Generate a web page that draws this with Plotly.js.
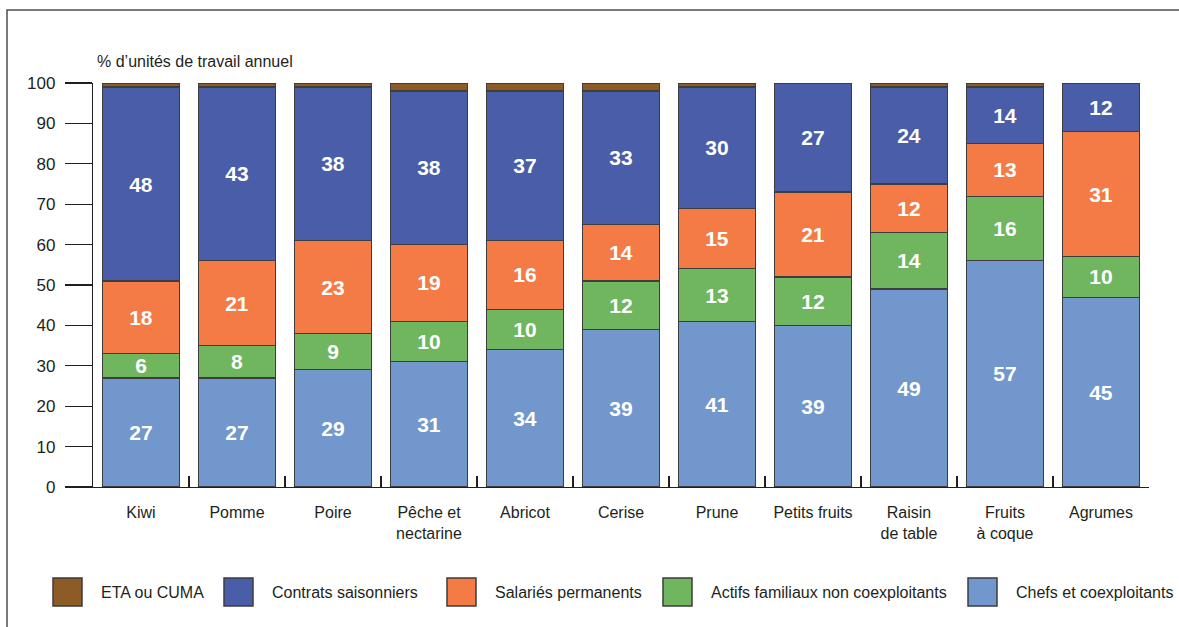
<!DOCTYPE html>
<html>
<head>
<meta charset="utf-8">
<script src="https://cdn.plot.ly/plotly-3.0.1.min.js"></script>
<style>
  html, body { margin: 0; padding: 0; background: #ffffff; }
  #chart { width: 1179px; height: 627px; }
</style>
</head>
<body>
<div id="chart"></div>
<script>
// Categories (x-axis tick labels)
const categories = ["Kiwi", "Pomme", "Poire", "Pêche et<br>nectarine", "Abricot", "Cerise", "Prune", "Petits fruits", "Raisin<br>de table", "Fruits<br>à coque", "Agrumes"];

// Series names
const seriesNames = ["Chefs et coexploitants", "Actifs familiaux non coexploitants", "Salariés permanents", "Contrats saisonniers", "ETA ou CUMA"];

// Segment heights (% of annual work units)
const chefs      = [27, 27, 29, 31, 34, 39, 41, 40, 49, 56, 47];
const actifs     = [ 6,  8,  9, 10, 10, 12, 13, 12, 14, 16, 10];
const salaries   = [18, 21, 23, 19, 17, 14, 15, 21, 12, 13, 31];
const contrats   = [48, 43, 38, 38, 37, 33, 30, 27, 24, 14, 12];
const eta        = [ 1,  1,  1,  2,  2,  2,  1,  0,  1,  1,  0];

// Printed labels inside the bars
const chefsLabels    = [27, 27, 29, 31, 34, 39, 41, 39, 49, 57, 45];
const actifsLabels   = [ 6,  8,  9, 10, 10, 12, 13, 12, 14, 16, 10];
const salariesLabels = [18, 21, 23, 19, 16, 14, 15, 21, 12, 13, 31];
const contratsLabels = [48, 43, 38, 38, 37, 33, 30, 27, 24, 14, 12];

// Y-axis ticks
const yTicks = [0, 10, 20, 30, 40, 50, 60, 70, 80, 90, 100];

// ---- styling / layout (not data) ----
const colors = ["#7297cd", "#6fb65f", "#f47b45", "#4a5da8", "#8d5b26"];
const FONT = "'Liberation Sans', Arial, sans-serif";
const INK = "#231f20";
const W = 1179, H = 627;
const M = { l: 93, r: 30, t: 83, b: 140 };
const plotW = W - M.l - M.r, plotH = H - M.t - M.b;
const px2x = px => (px - M.l) / plotW;
const py2y = py => (H - M.b - py) / plotH;

// Legend layout (drawn in reverse series order: ETA first), pixel positions
const legendSwatchLeft = [53, 224, 447, 663, 968];
const legendTextGap = 17;
const legendSwatch = { w: 29, h: 28, cy: 592 };

const seriesValues = [chefs, actifs, salaries, contrats, eta];
const seriesLabels = [chefsLabels, actifsLabels, salariesLabels, contratsLabels, null];

const traces = seriesValues.map((vals, i) => {
  const t = {
    type: "bar",
    name: seriesNames[i],
    x: categories,
    y: vals,
    marker: { color: colors[i], line: { color: "#3d3d3d", width: 1.2 } },
    hoverinfo: "skip",
    showlegend: false
  };
  if (seriesLabels[i]) {
    t.text = seriesLabels[i].map(String);
    t.textposition = "inside";
    t.insidetextanchor = "middle";
    t.textangle = 0;
    t.constraintext = "none";
    t.textfont = { family: FONT, size: 21, color: "#ffffff", weight: "bold" };
  } else {
    t.textposition = "none";
  }
  return t;
});

const shapes = [{
  type: "rect",
  xref: "paper", yref: "paper",
  x0: px2x(7), x1: px2x(W + 40),
  y0: py2y(10), y1: py2y(H + 40),
  line: { color: "#4d4d4d", width: 1.5 },
  fillcolor: "rgba(0,0,0,0)",
  layer: "below"
}];

const annotations = [{
  text: "% d’unités de travail annuel",
  xref: "paper", yref: "paper",
  x: px2x(95), y: py2y(62),
  xanchor: "left", yanchor: "middle",
  showarrow: false,
  font: { family: FONT, size: 16, color: INK }
}];

// custom legend built from series names and colours (ETA first)
const legendOrder = [4, 3, 2, 1, 0];
legendOrder.forEach((si, k) => {
  const left = legendSwatchLeft[k];
  shapes.push({
    type: "rect",
    xref: "paper", yref: "paper",
    x0: px2x(left), x1: px2x(left + legendSwatch.w),
    y0: py2y(legendSwatch.cy - legendSwatch.h / 2), y1: py2y(legendSwatch.cy + legendSwatch.h / 2),
    fillcolor: colors[si],
    line: { color: "#3d3d3d", width: 1.5 }
  });
  annotations.push({
    text: seriesNames[si],
    xref: "paper", yref: "paper",
    x: px2x(left + legendSwatch.w + legendTextGap), y: py2y(legendSwatch.cy),
    xanchor: "left", yanchor: "middle",
    showarrow: false,
    font: { family: FONT, size: 16, color: INK }
  });
});

const layout = {
  width: W,
  height: H,
  margin: M,
  paper_bgcolor: "#ffffff",
  plot_bgcolor: "#ffffff",
  barmode: "stack",
  bargap: 0.2,
  showlegend: false,
  hovermode: false,
  font: { family: FONT, color: INK },
  xaxis: {
    type: "category",
    showline: true,
    linecolor: INK,
    linewidth: 1.2,
    ticks: "inside",
    tickson: "boundaries",
    ticklen: 11,
    tickcolor: INK,
    tickwidth: 1.2,
    showgrid: false,
    tickangle: 0,
    tickfont: { family: FONT, size: 16, color: INK },
    ticklabelstandoff: 11,
    fixedrange: true
  },
  yaxis: {
    range: [0, 100],
    tickvals: yTicks,
    ticktext: yTicks.map(String),
    showline: true,
    linecolor: INK,
    linewidth: 1.2,
    ticks: "outside",
    ticklen: 27,
    tickcolor: INK,
    tickwidth: 1.2,
    showgrid: false,
    zeroline: false,
    tickfont: { family: FONT, size: 17, color: INK },
    ticklabelstandoff: 6,
    fixedrange: true
  },
  annotations: annotations,
  shapes: shapes
};

Plotly.newPlot("chart", traces, layout, { displayModeBar: false, staticPlot: true });
</script>
</body>
</html>
